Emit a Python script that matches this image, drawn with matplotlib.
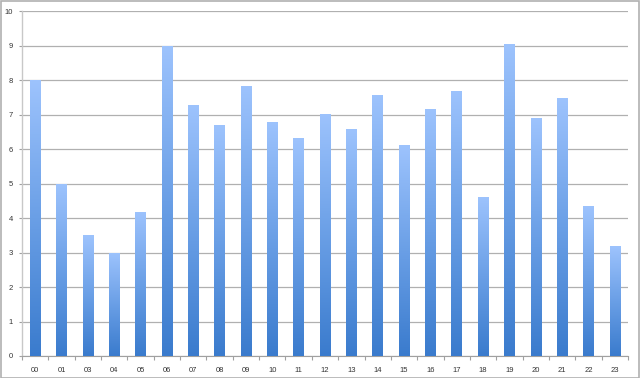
import matplotlib
matplotlib.use("Agg")
import matplotlib.pyplot as plt
import numpy as np
from matplotlib.colors import LinearSegmentedColormap
from matplotlib.patches import Rectangle

categories = ["00", "01", "03", "04", "05", "06", "07", "08", "09", "10", "11", "12",
              "13", "14", "15", "16", "17", "18", "19", "20", "21", "22", "23"]
values = [8.0, 5.0, 3.5, 3.0, 4.18, 8.99, 7.28, 6.70, 7.83, 6.80, 6.32, 7.03,
          6.58, 7.56, 6.12, 7.18, 7.69, 4.62, 9.04, 6.90, 7.48, 4.34, 3.18]
yticks = list(range(0, 11))

plt.rcParams['font.family'] = ['Liberation Sans', 'DejaVu Sans']

fig = plt.figure(figsize=(6.4, 3.78), dpi=100)
fig.patch.set_facecolor('white')
fig.patches.append(Rectangle((0.001, 0.001), 0.997, 0.996, transform=fig.transFigure,
                             fill=False, edgecolor='#B0B0B0', linewidth=1.2))
ax = fig.add_axes([22/640, 1 - 356/378, (628 - 22)/640, (356 - 11.3)/378])

x = np.arange(len(categories))
bars = ax.bar(x, values, width=0.4, color='none', edgecolor='none', zorder=3)

cmap = LinearSegmentedColormap.from_list('g', ['#3A7BCD', '#6A9FE6', '#9DC3FD'])
grad = np.linspace(0, 1, 256).reshape(-1, 1)
for b in bars:
    x0, y0 = b.get_x(), b.get_y()
    w, h = b.get_width(), b.get_height()
    im = ax.imshow(grad, cmap=cmap, origin='lower', aspect='auto',
                   extent=(x0, x0 + w, y0, y0 + h), zorder=3, interpolation='bilinear')
    im.set_clip_path(b)

ax.set_xlim(-0.5, len(categories) - 0.5)
ax.set_ylim(0, 10)
ax.set_yticks(yticks)
ax.set_yticklabels([str(t) for t in yticks])
ax.set_xticks(x)
ax.set_xticklabels(categories)
ax.set_xticks(np.arange(-0.5, len(categories)), minor=True)

ax.tick_params(axis='x', which='major', length=0, pad=8, labelsize=5.5, colors='#333333')
ax.tick_params(axis='x', which='minor', length=3, color='#A0A0A0', width=0.8)
ax.tick_params(axis='y', length=2.5, pad=4, labelsize=5.5, colors='#333333', color='#A0A0A0', width=0.8)
for t in ax.get_yticklabels() + ax.get_xticklabels():
    t.set_color('#333333')

ax.grid(axis='y', color='#B0B0B0', linewidth=0.9, zorder=0)
ax.set_axisbelow(True)
for s in ['top', 'right']:
    ax.spines[s].set_visible(False)
ax.spines['left'].set_color('#C8C8C8')
ax.spines['bottom'].set_color('#A0A0A0')
ax.spines['left'].set_linewidth(1.0)
ax.spines['bottom'].set_linewidth(0.8)

fig.savefig('out.png', dpi=100)
